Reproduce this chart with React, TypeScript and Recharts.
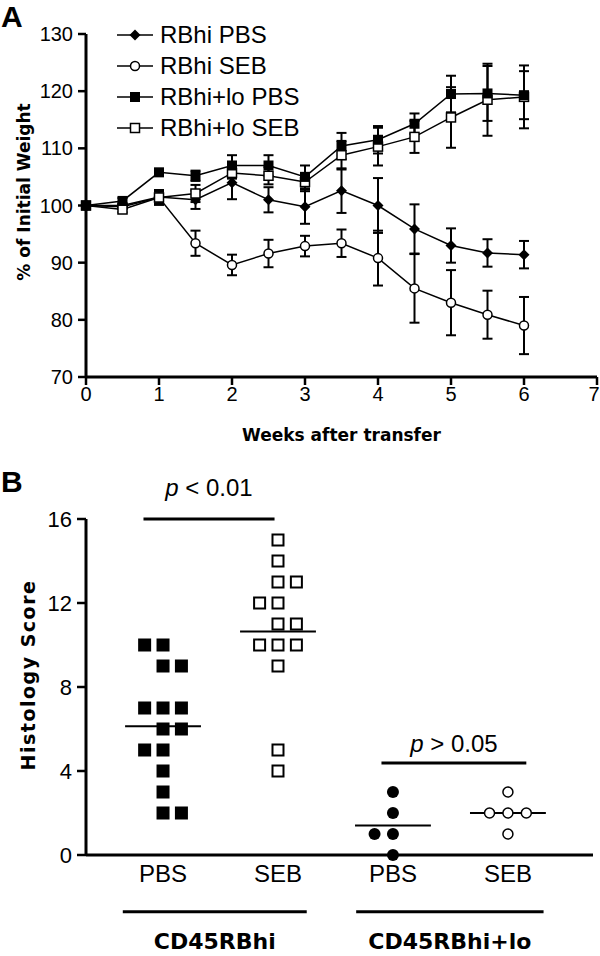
import React from 'react';
import {
  LineChart, Line, XAxis, YAxis, ErrorBar, Legend,
  ScatterChart, Scatter, ReferenceLine,
} from 'recharts';

// Panel A: % of initial weight
const weeks = [0, 0.5, 1, 1.5, 2, 2.5, 3, 3.5, 4, 4.5, 5, 5.5, 6];
const hiPbs = [100, 100, 101.5, 101, 104, 101, 99.8, 102.6, 100, 95.9, 93, 91.7, 91.4];
const hiPbsErr = [0, 0.4, 1.2, 1.6, 2.9, 2.2, 3, 3.9, 4.8, 4.3, 3, 2.4, 2.4];
const hiSeb = [100, 99.8, 101.4, 93.4, 89.6, 91.6, 92.9, 93.4, 90.8, 85.5, 83, 80.9, 79];
const hiSebErr = [0, 0.4, 1.3, 2.2, 1.8, 2.4, 1.8, 2.4, 4.8, 6, 5.7, 4.2, 5];
const mixPbs = [100, 100.8, 105.8, 105.2, 107, 107, 105, 110.4, 111.5, 114.3, 119.5, 119.6, 119.3];
const mixPbsErr = [0, 0.5, 0.6, 0.9, 1.8, 1.8, 2, 2.3, 2.4, 1.8, 3.2, 4.8, 4.2];
const mixSeb = [100, 99.3, 101.4, 102.1, 105.7, 105.2, 104.1, 108.8, 110.3, 112, 115.4, 118.5, 119];
const mixSebErr = [0, 0.5, 1, 1.5, 1, 1.5, 1.6, 2.5, 3.3, 2.8, 5.3, 6.3, 5.5];
const weightTicks = [70, 80, 90, 100, 110, 120, 130];
const weekTicks = [0, 1, 2, 3, 4, 5, 6, 7];

// Panel B: histology scores; slot = column inside the dot strip (-1 left, 0 centre, 1 right)
const hiPbsScores = [10, 10, 9, 9, 7, 7, 7, 6, 6, 5, 5, 4, 3, 2, 2];
const hiPbsSlots = [-1, 0, 0, 1, -1, 0, 1, 0, 1, -1, 0, 0, 0, 0, 1];
const hiSebScores = [15, 14, 13, 13, 12, 12, 11, 11, 10, 10, 10, 9, 5, 4];
const hiSebSlots = [0, 0, 0, 1, -1, 0, 0, 1, -1, 0, 1, 0, 0, 0];
const mixPbsScores = [3, 2, 1, 1, 0];
const mixPbsSlots = [0, 0, -1, 0, 0];
const mixSebScores = [3, 2, 2, 2, 1];
const mixSebSlots = [0, -1, 0, 1, 0];
const treatments = ['PBS', 'SEB', 'PBS', 'SEB'];
const cellTypes = ['CD45RBhi', 'CD45RBhi+lo'];
const scoreTicks = [0, 4, 8, 12, 16];

const FONT = '"Liberation Sans", Arial, sans-serif';
const NARROW = '"Liberation Sans Narrow", "Liberation Sans", Arial, sans-serif';
const BOLD = '"DejaVu Sans", sans-serif';
const SLOT = 0.16;

const weightRows = weeks.map((week, i) => ({
  week,
  hiPbs: hiPbs[i], hiPbsErr: hiPbsErr[i],
  hiSeb: hiSeb[i], hiSebErr: hiSebErr[i],
  mixPbs: mixPbs[i], mixPbsErr: mixPbsErr[i],
  mixSeb: mixSeb[i], mixSebErr: mixSebErr[i],
}));

const legendItems = [
  { name: 'RBhi PBS', mark: 'diamond' },
  { name: 'RBhi SEB', mark: 'circle' },
  { name: 'RBhi+lo PBS', mark: 'square' },
  { name: 'RBhi+lo SEB', mark: 'openSquare' },
];
// drawing order: filled squares end up on top
const lineSeries = [
  { key: 'hiSeb', mark: 'circle' },
  { key: 'hiPbs', mark: 'diamond' },
  { key: 'mixSeb', mark: 'openSquare' },
  { key: 'mixPbs', mark: 'square' },
];

const strips = [
  { scores: hiPbsScores, slots: hiPbsSlots, mark: 'bigSquare' },
  { scores: hiSebScores, slots: hiSebSlots, mark: 'bigOpenSquare' },
  { scores: mixPbsScores, slots: mixPbsSlots, mark: 'dot' },
  { scores: mixSebScores, slots: mixSebSlots, mark: 'ring' },
].map((s, i) => ({
  ...s,
  pos: i,
  mean: s.scores.reduce((a, b) => a + b, 0) / s.scores.length,
  points: s.scores.map((y, j) => ({ x: i + s.slots[j] * SLOT, y })),
}));

// underline spans for the two cell-type groups (in category units)
const groupSpans = [[-0.35, 1.25], [1.68, 3.31]];

function Marker({ kind, cx, cy }: { kind: string; cx?: number; cy?: number }) {
  if (cx == null || cy == null) return null;
  switch (kind) {
    case 'diamond':
      return <path d={`M${cx},${cy - 5.5}L${cx + 5.5},${cy}L${cx},${cy + 5.5}L${cx - 5.5},${cy}Z`} fill="#000" />;
    case 'circle':
      return <circle cx={cx} cy={cy} r={4.5} fill="#fff" stroke="#000" strokeWidth={1.5} />;
    case 'square':
      return <rect x={cx - 5} y={cy - 5} width={10} height={10} fill="#000" />;
    case 'openSquare':
      return <rect x={cx - 4.5} y={cy - 4.5} width={9} height={9} fill="#fff" stroke="#000" strokeWidth={1.5} />;
    case 'bigSquare':
      return <rect x={cx - 6.5} y={cy - 6.5} width={13} height={13} fill="#000" />;
    case 'bigOpenSquare':
      return <rect x={cx - 5.5} y={cy - 5.5} width={11} height={11} fill="#fff" stroke="#000" strokeWidth={2} />;
    case 'dot':
      return <circle cx={cx} cy={cy} r={6} fill="#000" />;
    case 'ring':
      return <circle cx={cx} cy={cy} r={5} fill="#fff" stroke="#000" strokeWidth={1.5} />;
    default:
      return null;
  }
}

function WeightLegend() {
  return (
    <div>
      {legendItems.map((it) => (
        <div key={it.name} style={{ display: 'flex', alignItems: 'center', height: 31 }}>
          <svg width={40} height={16}>
            <line x1={0} x2={36} y1={8} y2={8} stroke="#000" strokeWidth={1.5} />
            <Marker kind={it.mark} cx={18} cy={8} />
          </svg>
          <span style={{ fontSize: 24, fontFamily: FONT, marginLeft: 3, lineHeight: '24px' }}>{it.name}</span>
        </div>
      ))}
    </div>
  );
}

// keeps the last week label ("7") inside the picture
function WeekTick({ x, y, payload }: any) {
  return (
    <text x={Math.min(x, 594)} y={y} dy="0.71em" textAnchor="middle" fontSize={20} fontFamily={NARROW} fill="#000">
      {payload.value}
    </text>
  );
}

function PLabel({ viewBox, text, lift }: any) {
  const { x, y, width } = viewBox;
  return (
    <text x={x + width / 2} y={y - lift} textAnchor="middle" fontSize={24} fontFamily={FONT} fill="#000">
      <tspan fontStyle="italic">p</tspan>{' ' + text}
    </text>
  );
}

function GroupLabel({ viewBox, text }: any) {
  const { x, y, width } = viewBox;
  return (
    <text x={x + width / 2} y={y + 37} textAnchor="middle" fontSize={22} fontWeight="bold" fontFamily={BOLD} fill="#000">
      {text}
    </text>
  );
}

function VLabel({ cx, cy, size, spacing, children }: any) {
  return (
    <div
      style={{
        position: 'absolute', left: cx, top: cy,
        transform: 'translate(-50%, -50%) rotate(-90deg)',
        whiteSpace: 'nowrap', fontFamily: BOLD, fontWeight: 'bold',
        fontSize: size, letterSpacing: spacing,
      }}
    >
      {children}
    </div>
  );
}

const axisStroke = { stroke: '#000', strokeWidth: 3 };
const tickStroke = { stroke: '#000', strokeWidth: 2.5 };
const panelLetter = { position: 'absolute' as const, left: 1, fontFamily: FONT, fontWeight: 'bold', fontSize: 30, lineHeight: '30px' };

export default function App() {
  return (
    <div style={{ position: 'absolute', left: 0, top: 0, width: 600, height: 956, background: '#fff' }}>
      <div style={{ position: 'absolute', left: 0, top: 0 }}>
        <LineChart width={600} height={450} data={weightRows} margin={{ top: 34, right: 3, bottom: 21, left: 0 }}>
          <XAxis
            type="number" dataKey="week" domain={[0, 7]} ticks={weekTicks} interval={0}
            axisLine={axisStroke} tickLine={tickStroke} tickSize={8}
            tick={<WeekTick />} height={52}
            label={{ value: 'Weeks after transfer', position: 'bottom', offset: 0, fill: '#000', fontSize: 17, fontWeight: 'bold', fontFamily: BOLD }}
          />
          <YAxis
            type="number" domain={[70, 130]} ticks={weightTicks} interval={0} width={86}
            axisLine={axisStroke} tickLine={tickStroke} tickSize={8} tickMargin={5}
            tick={{ fill: '#000', fontSize: 20, fontFamily: NARROW }}
          />
          <Legend
            layout="vertical" align="center" verticalAlign="middle"
            content={() => <WeightLegend />}
            wrapperStyle={{ top: 19, left: 117, width: 260, height: 124 }}
          />
          {lineSeries.map((s) => (
            <Line
              key={s.key} dataKey={s.key} stroke="#000" strokeWidth={1.5}
              isAnimationActive={false}
              dot={(p: any) => <Marker key={`${s.key}-${p.index}`} kind={s.mark} cx={p.cx} cy={p.cy} />}
            >
              <ErrorBar dataKey={`${s.key}Err`} width={5} stroke="#000" strokeWidth={2} direction="y" isAnimationActive={false} />
            </Line>
          ))}
        </LineChart>
      </div>

      <div style={{ position: 'absolute', left: 0, top: 450 }}>
        <ScatterChart width={600} height={506} margin={{ top: 69, right: 7, bottom: 61, left: 0 }}>
          <XAxis
            xAxisId="cat" type="number" dataKey="x" domain={[-0.67, 3.74]} ticks={[0, 1, 2, 3]} interval={0}
            tickFormatter={(v: number) => treatments[v]} axisLine={axisStroke} tickLine={false}
            tickSize={0} tickMargin={10} height={40}
            tick={{ fill: '#000', fontSize: 24, fontFamily: FONT }}
          />
          <YAxis
            type="number" dataKey="y" domain={[0, 16]} ticks={scoreTicks} interval={0} width={86}
            axisLine={axisStroke} tickLine={tickStroke} tickSize={9} tickMargin={5}
            tick={{ fill: '#000', fontSize: 22, fontFamily: FONT }}
          />
          <ReferenceLine
            xAxisId="cat" ifOverflow="visible" stroke="#000" strokeWidth={3}
            segment={[{ x: -0.17, y: 16 }, { x: 0.97, y: 16 }]}
            label={(p: any) => <PLabel viewBox={p.viewBox} text="< 0.01" lift={23} />}
          />
          <ReferenceLine
            xAxisId="cat" ifOverflow="visible" stroke="#000" strokeWidth={3}
            segment={[{ x: 1.9, y: 4.38 }, { x: 3.16, y: 4.38 }]}
            label={(p: any) => <PLabel viewBox={p.viewBox} text="> 0.05" lift={11} />}
          />
          {groupSpans.map((span, i) => (
            <ReferenceLine
              key={`group-${i}`} xAxisId="cat" ifOverflow="visible" stroke="#000" strokeWidth={3}
              segment={[{ x: span[0], y: -2.7 }, { x: span[1], y: -2.7 }]}
              label={(p: any) => <GroupLabel viewBox={p.viewBox} text={cellTypes[i]} />}
            />
          ))}
          {strips.map((s) => (
            <ReferenceLine
              key={`mean-${s.pos}`} xAxisId="cat" ifOverflow="visible" stroke="#000" strokeWidth={2}
              segment={[{ x: s.pos - 0.33, y: s.mean }, { x: s.pos + 0.33, y: s.mean }]}
            />
          ))}
          {strips.map((s) => (
            <Scatter
              key={`strip-${s.pos}`} xAxisId="cat" data={s.points} isAnimationActive={false}
              shape={(p: any) => <Marker kind={s.mark} cx={p.cx} cy={p.cy} />}
            />
          ))}
        </ScatterChart>
      </div>

      <div style={{ ...panelLetter, top: 2 }}>A</div>
      <div style={{ ...panelLetter, top: 467 }}>B</div>
      <VLabel cx={24} cy={192} size={17}>% of Initial Weight</VLabel>
      <VLabel cx={28} cy={675} size={19} spacing={1.5}>Histology Score</VLabel>
    </div>
  );
}
